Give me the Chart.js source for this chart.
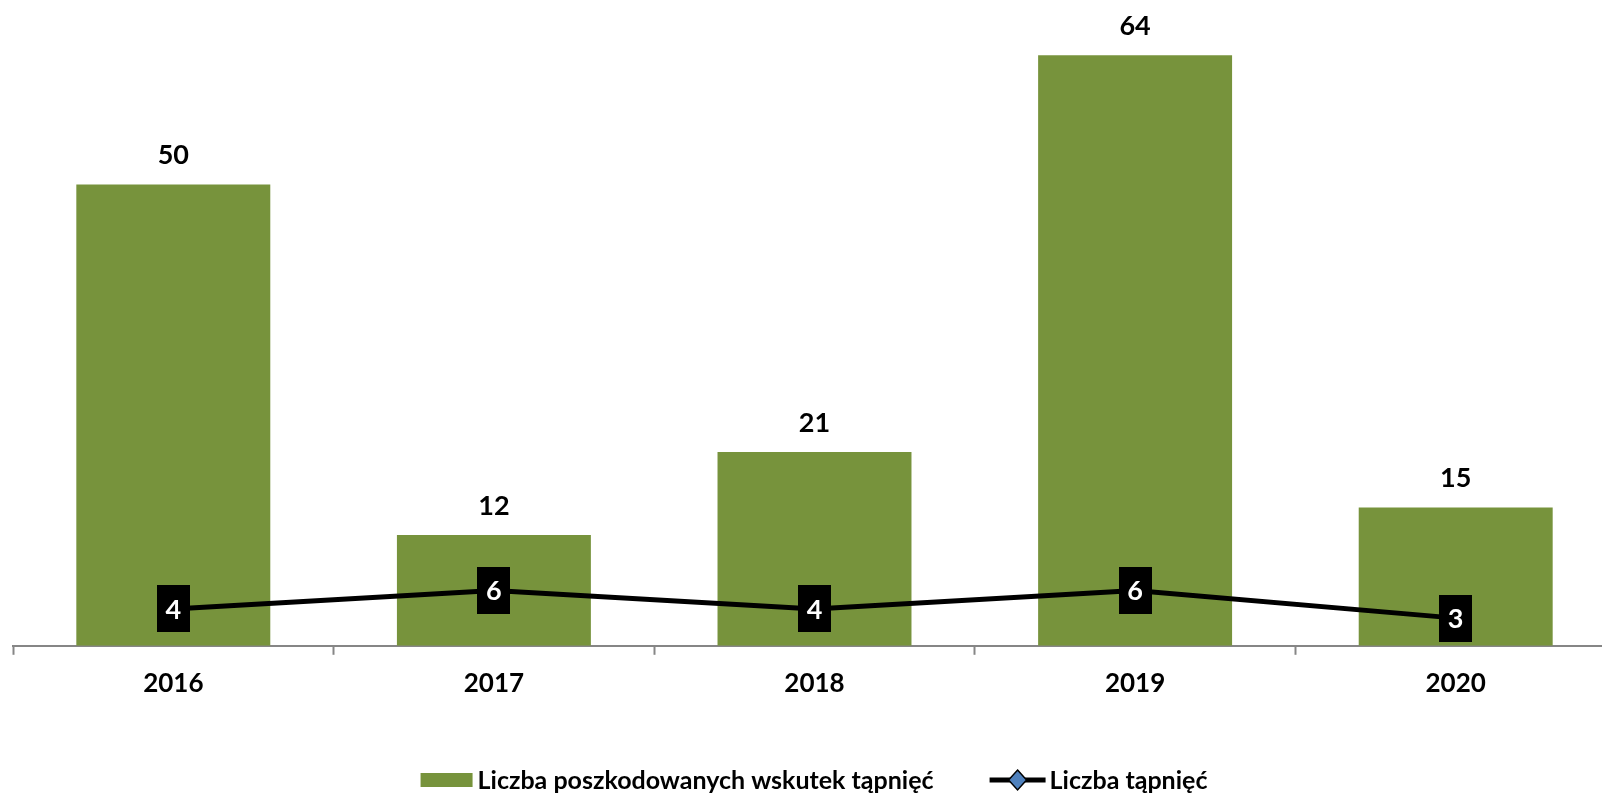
<!DOCTYPE html>
<html>
<head>
<meta charset="utf-8">
<script src="https://cdn.jsdelivr.net/npm/chart.js@4/dist/chart.umd.min.js"></script>
<style>
  html, body { margin: 0; padding: 0; background: #fff; overflow: hidden; }
  #wrap { width: 1620px; height: 794px; position: relative; }
</style>
</head>
<body>
<div id="wrap"><canvas id="c" width="1620" height="794"></canvas></div>
<script>
const categories = ['2016', '2017', '2018', '2019', '2020'];
const injuredValues = [50, 12, 21, 64, 15];
const rockburstValues = [4, 6, 4, 6, 3];
const injuredLabel = 'Liczba poszkodowanych wskutek tąpnięć';
const rockburstLabel = 'Liczba tąpnięć';

const GREEN = '#77933C';
const FONT = 'Lato, "Open Sans", sans-serif';

const labelsPlugin = {
  id: 'labelsPlugin',
  afterDatasetsDraw(chart) {
    const ctx = chart.ctx;
    ctx.save();
    ctx.font = 'bold 27px ' + FONT;
    ctx.textAlign = 'center';
    ctx.textBaseline = 'middle';
    const barMeta = chart.getDatasetMeta(0);
    barMeta.data.forEach((el, i) => {
      ctx.fillStyle = '#000';
      ctx.fillText(String(chart.data.datasets[0].data[i]), el.x, el.y - 29);
    });
    const lineMeta = chart.getDatasetMeta(1);
    lineMeta.data.forEach((el, i) => {
      const w = 33, h = 47;
      ctx.fillStyle = '#000';
      ctx.fillRect(Math.round(el.x - w / 2), Math.round(el.y - h / 2), w, h);
      ctx.fillStyle = '#fff';
      ctx.fillText(String(chart.data.datasets[1].data[i]), el.x, el.y + 1);
    });
    ctx.restore();
  }
};

const legendPlugin = {
  id: 'customLegend',
  afterDraw(chart) {
    const ctx = chart.ctx;
    ctx.save();
    ctx.font = 'bold 25px ' + FONT;
    ctx.textBaseline = 'middle';
    ctx.textAlign = 'left';
    const ds = chart.data.datasets;
    const sym1 = 52, gap1 = 5, sym2 = 56, gap2 = 4, between = 56;
    const t1 = ctx.measureText(ds[0].label).width;
    const t2 = ctx.measureText(ds[1].label).width;
    const total = sym1 + gap1 + t1 + between + sym2 + gap2 + t2;
    const cy = 780;
    let x = chart.width / 2 - total / 2 + 4;
    ctx.fillStyle = ds[0].backgroundColor;
    ctx.fillRect(x, cy - 7, sym1, 14);
    x += sym1 + gap1;
    ctx.fillStyle = '#000';
    ctx.fillText(ds[0].label, x, cy + 1);
    x += t1 + between;
    ctx.strokeStyle = '#000';
    ctx.lineWidth = 5;
    ctx.beginPath();
    ctx.moveTo(x, cy);
    ctx.lineTo(x + sym2, cy);
    ctx.stroke();
    const dx = x + sym2 / 2;
    ctx.beginPath();
    ctx.moveTo(dx, cy - 10);
    ctx.lineTo(dx + 9, cy);
    ctx.lineTo(dx, cy + 10);
    ctx.lineTo(dx - 9, cy);
    ctx.closePath();
    ctx.fillStyle = '#4F81BD';
    ctx.fill();
    ctx.lineWidth = 1.5;
    ctx.strokeStyle = '#000';
    ctx.stroke();
    x += sym2 + gap2;
    ctx.fillStyle = '#000';
    ctx.fillText(ds[1].label, x, cy + 1);
    ctx.restore();
  }
};

new Chart(document.getElementById('c'), {
  type: 'bar',
  data: {
    labels: categories,
    datasets: [
      {
        type: 'bar',
        label: injuredLabel,
        data: injuredValues,
        backgroundColor: GREEN,
        borderWidth: 0,
        categoryPercentage: 1.0,
        barPercentage: 0.605,
        order: 1
      },
      {
        type: 'line',
        label: rockburstLabel,
        data: rockburstValues,
        borderColor: '#000',
        borderWidth: 5,
        pointRadius: 0,
        tension: 0,
        fill: false,
        order: 0
      }
    ]
  },
  options: {
    responsive: false,
    animation: false,
    devicePixelRatio: 1,
    layout: { padding: { left: 13, right: 4, top: 0, bottom: 82 } },
    plugins: {
      legend: { display: false },
      tooltip: { enabled: false }
    },
    scales: {
      x: {
        offset: true,
        grid: {
          display: true,
          offset: true,
          drawOnChartArea: false,
          drawTicks: true,
          tickLength: 9,
          tickWidth: 2,
          color: '#868686'
        },
        border: { display: true, color: '#868686', width: 2 },
        ticks: {
          color: '#000',
          padding: 13,
          font: { family: FONT, size: 26, weight: 'bold' }
        }
      },
      y: {
        display: false,
        min: 0,
        max: 70,
        grid: { display: false }
      }
    }
  },
  plugins: [labelsPlugin, legendPlugin]
});
</script>
</body>
</html>
